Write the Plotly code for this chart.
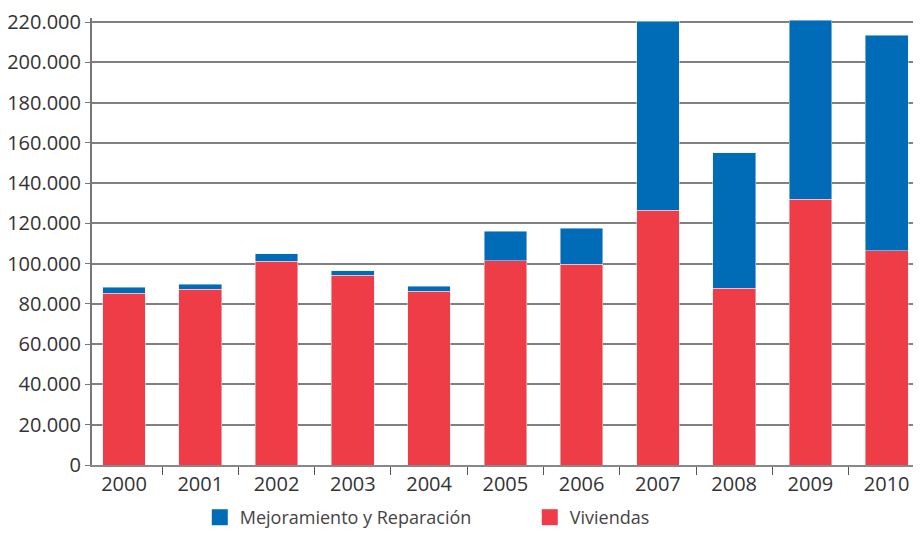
import plotly.graph_objects as go

years = ['2000', '2001', '2002', '2003', '2004', '2005', '2006', '2007', '2008', '2009', '2010']
viviendas = [85400, 87300, 101100, 94200, 86200, 101400, 99600, 126500, 87700, 131900, 106500]
mejoramiento = [2800, 2500, 3800, 2300, 2500, 14800, 18000, 93800, 67300, 88900, 106900]
y_ticks = [0, 20000, 40000, 60000, 80000, 100000, 120000, 140000, 160000, 180000, 200000, 220000]

red = '#EE3D46'
blue = '#006BB6'

fig = go.Figure()

fig.add_trace(go.Bar(x=years, y=viviendas, name='Viviendas', marker_color=red, showlegend=False))
fig.add_trace(go.Bar(x=years, y=mejoramiento, name='Mejoramiento y Reparación', marker_color=blue, showlegend=False))

# legend entries with larger square swatches
fig.add_trace(go.Scatter(x=[None], y=[None], mode='markers', name='Viviendas',
                         marker=dict(symbol='square', size=22, color=red)))
fig.add_trace(go.Scatter(x=[None], y=[None], mode='markers', name='Mejoramiento y Reparación',
                         marker=dict(symbol='square', size=22, color=blue)))

# page body has an 8px margin, so the figure is sized to fit inside it
fig.update_layout(
    barmode='stack',
    bargap=0.44,
    width=913, height=528,
    margin=dict(l=84, r=0, t=10, b=70),
    plot_bgcolor='white',
    paper_bgcolor='white',
    separators=',.',
    font=dict(family='Open Sans', size=18, color='#333333'),
    showlegend=True,
    legend=dict(
        orientation='h', traceorder='reversed', itemsizing='trace',
        x=0.13, xanchor='left', y=-0.117, yanchor='middle',
        font=dict(size=18, color='#444444'),
        entrywidth=285, entrywidthmode='pixels',
    ),
    xaxis=dict(
        type='category', range=[-0.42, 10.45],
        showline=True, linecolor='#888888', linewidth=2,
        ticks='outside', tickson='boundaries', ticklen=8, tickcolor='#555555',
        showgrid=False, automargin=False,
        tickfont=dict(size=20, color='#333333'),
    ),
    yaxis=dict(
        range=[0, 222000], tickvals=y_ticks, tickformat=',d',
        showline=True, linecolor='#777777', linewidth=2,
        ticks='outside', ticklen=5, tickcolor='#777777',
        showgrid=True, gridcolor='#808080', gridwidth=2,
        zeroline=False, ticklabeloverflow='allow', automargin=False,
        tickfont=dict(size=20, color='#333333'),
    ),
)

fig.write_html("out.html")
